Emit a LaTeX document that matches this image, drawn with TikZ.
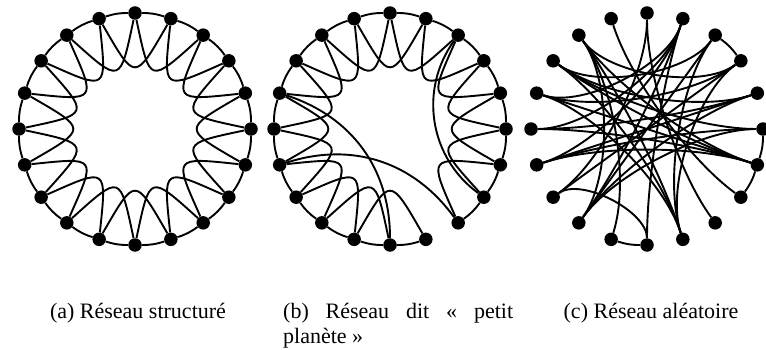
\documentclass[tikz,border=0pt]{standalone}
\usepackage{fontspec}
\setmainfont{Liberation Serif}
\begin{document}
\begin{tikzpicture}[x=1pt,y=1pt,
  vtx/.style={circle,fill=black,inner sep=0pt,minimum size=13.5pt},
  lnk/.style={line width=1.9pt,black},
  captext/.style={font=\fontsize{22}{26}\selectfont,inner sep=0pt}]
\useasboundingbox (0,0) rectangle (766,349);
% vertices
\foreach \p/\cx in {a/135,b/390,c/647} {
  \foreach \k in {0,...,19} {
    \node[vtx] (\p\k) at ({\cx+116*cos(90-18*\k)},{220+116*sin(90-18*\k)}) {};
  }
}
% (a) structured ring
\foreach \k in {0,...,19} {
  \pgfmathtruncatemacro\n{mod(\k+1,20)}
  \pgfmathtruncatemacro\m{mod(\k+2,20)}
  \pgfmathsetmacro\oa{270-18*\k+12}
  \pgfmathsetmacro\ob{270-18*\m-12}
  \draw[lnk] (a\k) to[bend left=9] (a\n);
  \draw[lnk] (a\k) to[out=\oa,in=\ob,looseness=2.6] (a\m);
}
% (b) small world
\foreach \k in {0,...,7,9,10,...,19} {
  \pgfmathtruncatemacro\n{mod(\k+1,20)}
  \draw[lnk] (b\k) to[bend left=9] (b\n);
}
\foreach \k in {0,...,6,9,10,...,19} {
  \pgfmathtruncatemacro\m{mod(\k+2,20)}
  \pgfmathsetmacro\oa{270-18*\k+12}
  \pgfmathsetmacro\ob{270-18*\m-12}
  \draw[lnk] (b\k) to[out=\oa,in=\ob,looseness=2.6] (b\m);
}
\foreach \i/\j in {2/7,14/8,16/10} {
  \pgfmathsetmacro\oa{270-18*\i}
  \pgfmathsetmacro\ob{270-18*\j}
  \draw[lnk] (b\i) to[out=\oa,in=\ob] (b\j);
}
% (c) random
\foreach \i/\j in {2/3,5/6,6/7,10/11} {
  \draw[lnk] (c\i) to[bend left=9] (c\j);
}
\foreach \i/\j in {0/8,0/13,19/7,11/18,10/1,10/13,9/2,9/3,9/17,9/18,9/16,
                   1/12,1/14,1/15,1/16,12/2,12/4,12/5,12/18,13/3,14/6,14/4,
                   14/5,15/6,15/4,16/6,16/3,17/6,17/5,17/4,18/3,18/6,2/17} {
  \pgfmathsetmacro\oa{270-18*\i}
  \pgfmathsetmacro\ob{270-18*\j}
  \draw[lnk] (c\i) to[out=\oa,in=\ob,looseness=0.7] (c\j);
}
% captions
\node[captext,anchor=base] (capa) at (138,30.5) {(a) Réseau structuré};
\node[captext,anchor=base west] (capb1) at (283,30.5) {\hbox to 230pt{(b)\hfill Réseau\hfill dit\hfill «\hfill petit}};
\node[captext,anchor=base west] (capb2) at (283,5.5) {planète »};
\node[captext,anchor=base] (capc) at (651,30.5) {(c) Réseau aléatoire};
\end{tikzpicture}
\end{document}
